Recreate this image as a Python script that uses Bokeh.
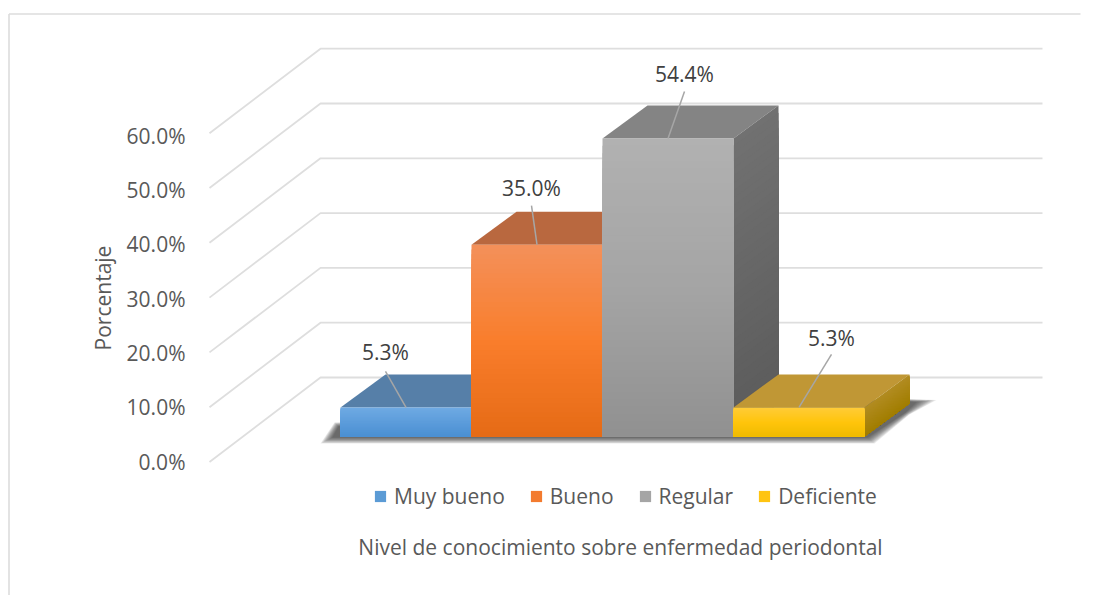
from bokeh.embed import file_html
from bokeh.resources import INLINE
from bokeh.plotting import figure
from bokeh.models import Range1d, LinearAxis, Legend, LegendItem, Label, FixedTicker, CustomJSTickFormatter
import numpy as np

categories = ["Muy bueno", "Bueno", "Regular", "Deficiente"]
values = [5.3, 35.0, 54.4, 5.3]
tick_values = [0, 10, 20, 30, 40, 50, 60]

# colours: front gradient (top, middle, bottom), top face, side face (top, bottom)
front_top = ["#6FAAE3", "#F49059", "#B1B1B1", "#FFCB38"]
front_mid = ["#5C9CDB", "#F97D2B", "#A4A4A4", "#FFC50C"]
front_bot = ["#4A8FD2", "#E56A15", "#909090", "#EFBA00"]
top_face = ["#567FA8", "#B9683F", "#848484", "#C09735"]
side_top = ["#4A76A0", "#A85A20", "#717171", "#B28C22"]
side_bot = ["#3F6A94", "#9A4F15", "#5B5B5B", "#A17D00"]
swatch = ["#5B9BD5", "#F37B2E", "#A5A5A5", "#FFC411"]

W, H = 1107, 595
PX_X, PX_Y = 131.0, 5.48     # pixels per bar unit, pixels per percent
X0_PAGE, Y0_PAGE = 340.0, 436.0  # page position of the first bar's front base
DX, DY = 45.0 / PX_X, 33.0 / PX_Y  # bar depth
FX, FY = 111.0 / PX_X, 84.5 / PX_Y  # floor depth
WALL_LEFT = (320.0 - X0_PAGE) / PX_X
WALL_RIGHT = (1042.0 - X0_PAGE) / PX_X
WALL_BASE = (Y0_PAGE - 377.0) / PX_Y


def hx(c):
    return np.array([int(c[i:i + 2], 16) for i in (1, 3, 5)], float)


def mix(a, b, t):
    r = hx(a) * (1 - t) + hx(b) * t
    return "#%02x%02x%02x" % tuple(int(round(v)) for v in r)


def grad3(a, b, c, t):
    return mix(a, b, t * 2) if t < .5 else mix(b, c, t * 2 - 1)


def ux(px):
    return (px - X0_PAGE) / PX_X


def uy(py):
    return (Y0_PAGE - py) / PX_Y


x_start, x_end = ux(0), ux(W)
y_start, y_end = uy(H), uy(0)

p = figure(width=W, height=H, output_backend="svg", toolbar_location=None,
           x_range=Range1d(x_start, x_end), y_range=Range1d(y_start, y_end),
           x_axis_type=None, y_axis_type=None, min_border=0,
           outline_line_color=None, background_fill_color="white", border_fill_color="white")
p.grid.visible = False

# chart area frame
p.line([ux(8.5), ux(8.5)], [y_start, uy(13.5)], line_color="#DCDCDC", line_width=1.6)
p.line([ux(8.5), ux(1080)], [uy(13.5), uy(13.5)], line_color="#DCDCDC", line_width=1.6)

# gridlines: side wall + back wall
for t in tick_values:
    yb = WALL_BASE + t
    p.line([WALL_LEFT - FX, WALL_LEFT, WALL_RIGHT], [yb - FY, yb, yb],
           line_color="#DEDEDE", line_width=1.8)

# value axis, placed at the front edge of the floor
front_px = 5.43
tick_y0 = uy(461.0)
p.extra_y_ranges["ticks"] = Range1d((y_start - tick_y0) * PX_Y / front_px,
                                    (y_end - tick_y0) * PX_Y / front_px)
axis = LinearAxis(y_range_name="ticks", fixed_location=ux(200),
                  ticker=FixedTicker(ticks=tick_values),
                  formatter=CustomJSTickFormatter(code="return tick.toFixed(1) + '%'"))
axis.axis_line_color = None
axis.major_tick_line_color = None
axis.minor_tick_line_color = None
axis.major_label_standoff = 9
axis.major_label_text_font = "Open Sans"
axis.major_label_text_font_size = "21px"
axis.major_label_text_color = "#595959"
axis.axis_label = "Porcentaje"
axis.axis_label_text_font = "Open Sans"
axis.axis_label_text_font_size = "21px"
axis.axis_label_text_font_style = "normal"
axis.axis_label_text_color = "#595959"
axis.axis_label_standoff = 7
p.add_layout(axis, "left")

# soft shadow under the bars, as stacked translucent layers
for g in np.linspace(1, 0, 12):
    sx = [340 - 8 - 12 * g, 864 + 3 + 7 * g, 905 + 4 * g, 916 + 20 * g, 884 + 8 * g, 340 - 2 - 4 * g]
    sy = [437 + 6 * g, 437 + 6 * g, 412 + 2 * g, 401.5 - 2 * g, 400 - 2 * g, 426 - 4 * g]
    p.patch([ux(a) for a in sx], [uy(b) for b in sy],
            fill_color="#262626", fill_alpha=0.085, line_color=None)

# 3-D columns, painted left to right
N = 40
swatch_renderers = []
ss = np.linspace(0, 1, N + 1)[:-1]
for i, v in enumerate(values):
    # top face
    p.patch([i, i + DX, i + 1 + DX, i + 1], [v, v + DY, v + DY, v],
            fill_color=top_face[i], line_color=None)
    # side face: each layer reaches the base, the next one overpaints it
    for a in ss:
        ya = v * (1 - a)
        c = mix(side_top[i], side_bot[i], a)
        p.patch([i + 1, i + 1 + DX, i + 1 + DX, i + 1], [ya, ya + DY, DY, 0], fill_color=c, line_color=None)
    # front face
    cols = [grad3(front_top[i], front_mid[i], front_bot[i], a) for a in ss]
    p.quad(left=[i] * N, right=[i + 1] * N, top=list(v * (1 - ss)), bottom=[0] * N,
           fill_color=cols, line_color=None)
    swatch_renderers.append(p.quad(left=[x_end + 1], right=[x_end + 2], top=[1], bottom=[0],
                                   fill_color=swatch[i], line_color=None))

# data labels with leader lines
label_dx = [-20.5, -5.5, 16.5, 32.5]
label_top_gap = [36, 39, 47, 53]
label_center_gap = [55, 57, 64, 69]
for i, v in enumerate(values):
    cx = i + 0.5
    p.line([cx, cx + label_dx[i] / PX_X], [v, v + label_top_gap[i] / PX_Y], line_color="#A6A6A6", line_width=1.5)
    p.add_layout(Label(x=cx + label_dx[i] / PX_X, y=v + label_center_gap[i] / PX_Y, text=f"{v:.1f}%",
                       text_font="Open Sans", text_font_size="21px", text_color="#404040",
                       text_align="center", text_baseline="middle"))

legend = Legend(items=[LegendItem(label=c, renderers=[r]) for c, r in zip(categories, swatch_renderers)],
                orientation="horizontal", location=(373, H - 510),
                background_fill_alpha=0, border_line_color=None, padding=0, margin=0,
                spacing=24, label_standoff=7, glyph_width=14, glyph_height=14,
                label_text_font="Open Sans", label_text_font_size="21px", label_text_color="#595959")
p.add_layout(legend, "center")

p.add_layout(Label(x=ux(620), y=uy(546),
                   text="Nivel de conocimiento sobre enfermedad periodontal",
                   text_font="Open Sans", text_font_size="21px", text_color="#595959",
                   text_align="center", text_baseline="middle"))

open("out.html", "w").write(file_html(p, INLINE))
